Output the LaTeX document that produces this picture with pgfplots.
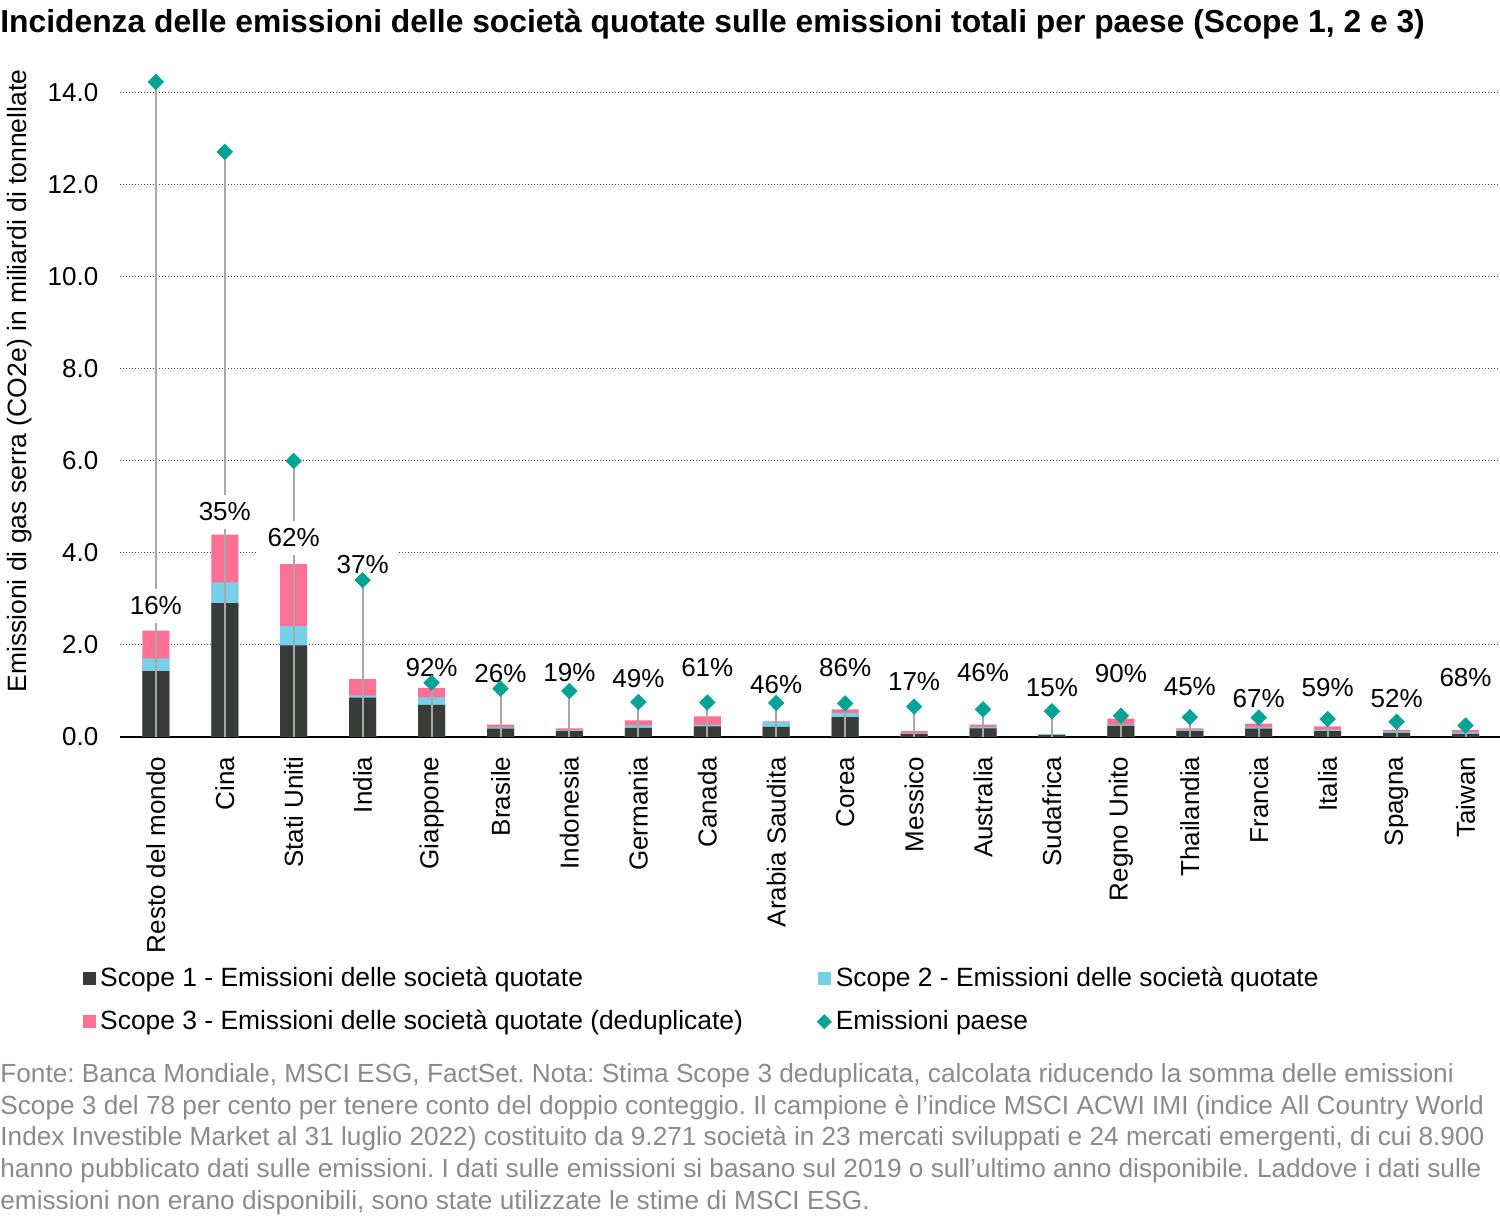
\documentclass[border=0pt]{standalone}
\usepackage{fontspec}
\setmainfont{Liberation Sans}
\usepackage{pgfplots}
\pgfplotsset{compat=1.18}
\frenchspacing

\definecolor{scopeA}{HTML}{393B39}
\definecolor{scopeB}{HTML}{76D1E8}
\definecolor{scopeC}{HTML}{FF7094}
\definecolor{paese}{HTML}{00A394}
\definecolor{stem}{HTML}{A8A8A8}
\definecolor{nota}{HTML}{8A8A8A}

\newcommand{\lbl}{\fontsize{13}{15}\selectfont}

\begin{document}
\begin{tikzpicture}

% country totals (bar tops are cumulative: scope 1, +2, +3)
\begin{axis}[
  at={(0,0)}, anchor=south west,
  scale only axis, width=690pt, height=335.8pt,
  xmin=-0.52, xmax=19.5, ymin=0, ymax=14.6,
  axis x line=bottom, axis y line=left,
  x axis line style={-, line width=1pt, black},
  y axis line style={draw=none},
  xtick={0,...,19},
  xticklabels={Resto del mondo,Cina,Stati Uniti,India,Giappone,Brasile,Indonesia,Germania,Canada,Arabia Saudita,Corea,Messico,Australia,Sudafrica,Regno Unito,Thailandia,Francia,Italia,Spagna,Taiwan},
  xtick style={draw=none},
  xticklabel style={rotate=90, anchor=east, inner sep=0pt, font=\lbl},
  xticklabel shift=7.5pt,
  ytick={0,2,...,14},
  ytick style={draw=none},
  yticklabel style={anchor=east, inner sep=0pt, font=\lbl, xshift=-8.5pt},
  /pgf/number format/.cd, fixed, fixed zerofill, precision=1, assume math mode=true,
  /pgfplots/.cd,
  ymajorgrids,
  major grid style={line width=0.5pt, color=black!75, dash pattern=on 0.6pt off 0.9pt},
  ylabel={Emissioni di gas serra (CO2e) in miliardi di tonnellate},
  ylabel style={at={(axis description cs:-0.0725,0.53)}, anchor=center, font=\fontsize{13.25}{15}\selectfont},
  legend columns=2,
  legend cell align=left,
  legend style={draw=none, fill=none, inner sep=0pt, font=\fontsize{13.2}{15}\selectfont,
    at={(axis description cs:-0.0268,-0.336)}, anchor=north west,
    row sep=6.5pt, /tikz/column 2/.style={column sep=35pt}},
]

\addplot[ybar, bar width=13.5pt, bar shift=0pt, fill=scopeC, draw=none, forget plot]
coordinates {
 (0,2.31) (1,4.40) (2,3.76) (3,1.26) (4,1.07) (5,0.27) (6,0.19) (7,0.36) (8,0.45) (9,0.34)
 (10,0.60) (11,0.13) (12,0.27) (13,0.07) (14,0.40) (15,0.19) (16,0.29) (17,0.23) (18,0.15) (19,0.15)
};
\addplot[ybar, bar width=13.5pt, bar shift=0pt, fill=scopeB, draw=none, forget plot]
coordinates {
 (0,1.71) (1,3.36) (2,2.41) (3,0.90) (4,0.86) (5,0.21) (6,0.15) (7,0.25) (8,0.27) (9,0.33)
 (10,0.52) (11,0.08) (12,0.22) (13,0.06) (14,0.27) (15,0.16) (16,0.21) (17,0.16) (18,0.12) (19,0.10)
};
\addplot[ybar, bar width=13.5pt, bar shift=0pt, fill=scopeA, draw=none, forget plot]
coordinates {
 (0,1.43) (1,2.91) (2,1.99) (3,0.855) (4,0.70) (5,0.18) (6,0.13) (7,0.20) (8,0.23) (9,0.22)
 (10,0.43) (11,0.06) (12,0.19) (13,0.04) (14,0.24) (15,0.13) (16,0.18) (17,0.13) (18,0.09) (19,0.07)
};

% stems from zero to the country total
\addplot[ycomb, stem, line width=1pt, mark=none, forget plot]
coordinates {
 (0,14.24) (1,12.72) (2,6.00) (3,3.41) (4,1.18) (5,1.05) (6,1.00) (7,0.76) (8,0.75) (9,0.74)
 (10,0.73) (11,0.66) (12,0.60) (13,0.56) (14,0.46) (15,0.43) (16,0.42) (17,0.39) (18,0.33) (19,0.25)
};

% share labels
\addplot[only marks, mark=none, forget plot, point meta=explicit symbolic,
  nodes near coords, nodes near coords style={anchor=center, fill=white, inner xsep=5pt, inner ysep=4pt, font=\lbl}]
coordinates {
 (0,2.85) [16\%] (1,4.89) [35\%] (2,4.33) [62\%] (3,3.74) [37\%] (4,1.52) [92\%]
 (5,1.39) [26\%] (6,1.41) [19\%] (7,1.28) [49\%] (8,1.50) [61\%] (9,1.15) [46\%]
 (10,1.50) [86\%] (11,1.20) [17\%] (12,1.41) [46\%] (13,1.07) [15\%] (14,1.39) [90\%]
 (15,1.09) [45\%] (16,0.83) [67\%] (17,1.07) [59\%] (18,0.83) [52\%] (19,1.30) [68\%]
};

\addplot[only marks, mark=square*, mark size=2.7pt, mark options={rotate=45, fill=paese, draw=paese}, forget plot]
coordinates {
 (0,14.24) (1,12.72) (2,6.00) (3,3.41) (4,1.18) (5,1.05) (6,1.00) (7,0.76) (8,0.75) (9,0.74)
 (10,0.73) (11,0.66) (12,0.60) (13,0.56) (14,0.46) (15,0.43) (16,0.42) (17,0.39) (18,0.33) (19,0.25)
};

\addlegendimage{legend image code/.code={\fill[scopeA] (0pt,-3pt) rectangle (6pt,3pt);}}
\addlegendentry{Scope 1 - Emissioni delle società quotate}
\addlegendimage{legend image code/.code={\fill[scopeB] (0pt,-3pt) rectangle (6pt,3pt);}}
\addlegendentry{Scope 2 - Emissioni delle società quotate}
\addlegendimage{legend image code/.code={\fill[scopeC] (0pt,-3pt) rectangle (6pt,3pt);}}
\addlegendentry{Scope 3 - Emissioni delle società quotate (deduplicate)}
\addlegendimage{legend image code/.code={\fill[paese] (3pt,3.5pt) -- (6.5pt,0pt) -- (3pt,-3.5pt) -- (-0.5pt,0pt) -- cycle;}}
\addlegendentry{Emissioni paese}
\end{axis}

\node[anchor=base west, inner sep=0pt, font=\bfseries\fontsize{15.9}{18}\selectfont] at (-60pt,352pt)
  {Incidenza delle emissioni delle società quotate sulle emissioni totali per paese (Scope 1, 2 e 3)};

\begin{scope}[every node/.style={anchor=base west, inner sep=0pt, text=nota, font=\fontsize{13.1}{15}\selectfont}]
\node at (-60pt,-172.9pt) {Fonte: Banca Mondiale, MSCI ESG, FactSet. Nota: Stima Scope 3 deduplicata, calcolata riducendo la somma delle emissioni};
\node at (-60pt,-188.7pt) {Scope 3 del 78 per cento per tenere conto del doppio conteggio. Il campione è l’indice MSCI ACWI IMI (indice All Country World};
\node at (-60pt,-204.5pt) {Index Investible Market al 31 luglio 2022) costituito da 9.271 società in 23 mercati sviluppati e 24 mercati emergenti, di cui 8.900};
\node at (-60pt,-220.3pt) {hanno pubblicato dati sulle emissioni. I dati sulle emissioni si basano sul 2019 o sull’ultimo anno disponibile. Laddove i dati sulle};
\node at (-60pt,-236.1pt) {emissioni non erano disponibili, sono state utilizzate le stime di MSCI ESG.};
\end{scope}

\pgfresetboundingbox
\path[use as bounding box] (-60pt,-240.5pt) rectangle (690pt,368.5pt);
\end{tikzpicture}
\end{document}
